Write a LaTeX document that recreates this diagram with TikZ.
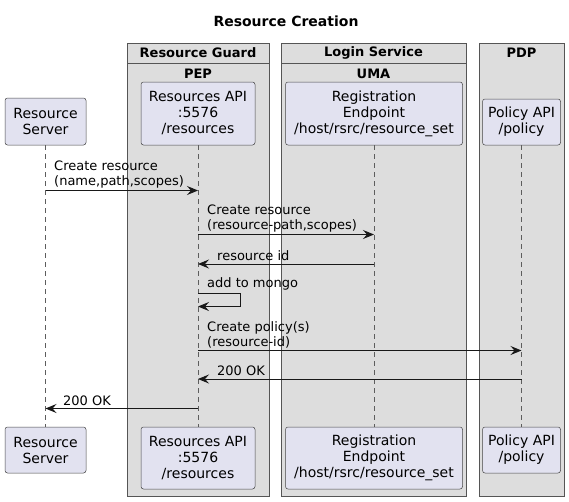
\documentclass[tikz,border=0pt]{standalone}
\usepackage{fontspec}
\setmainfont{DejaVu Sans}
\usetikzlibrary{arrows.meta}
\definecolor{partfill}{HTML}{E2E2F0}
\definecolor{partline}{HTML}{181818}
\definecolor{boxfill}{HTML}{DDDDDD}
\definecolor{boxline}{HTML}{555555}
\tikzset{
  x=1pt, y=-1pt,
  part/.style={draw=partline!80, fill=partfill, rounded corners=2.5pt, line width=0.5pt},
  ptext/.style={font=\fontsize{14}{16}\selectfont, align=center, inner sep=0pt},
  grp/.style={draw=boxline, fill=boxfill, line width=0.8pt},
  gtitle/.style={font=\fontsize{13}{15}\selectfont\bfseries, inner sep=0pt},
  life/.style={draw=partline!70, line width=0.6pt, dash pattern=on 5pt off 4pt},
  msg/.style={draw=partline, line width=0.9pt, -{Stealth[length=11pt,width=9pt,inset=4pt]}},
  mtext/.style={font=\fontsize{13}{14.5}\selectfont, align=left, inner sep=0pt, anchor=south west},
}
\begin{document}
\begin{tikzpicture}
\useasboundingbox (0,0) rectangle (569,501);
\fill[white] (0,0) rectangle (569,501);
% title
\node[font=\fontsize{14}{16}\selectfont\bfseries, inner sep=0pt] (title) at (286,21) {Resource Creation};
% groups
\draw[grp] (127,43) rectangle (269,496);
\draw[boxline, line width=0.8pt] (127,63) -- (269,63);
\node[gtitle] (g1) at (198,52.5) {Resource Guard};
\node[gtitle] (g1b) at (198,73.5) {PEP};
\draw[grp] (281,43) rectangle (466,496);
\draw[boxline, line width=0.8pt] (281,63) -- (466,63);
\node[gtitle] (g2) at (373.5,52.5) {Login Service};
\node[gtitle] (g2b) at (373.5,73.5) {UMA};
\draw[grp] (479,43) rectangle (564,496);
\node[gtitle] (g3) at (521.5,52.5) {PDP};
% lifelines
\coordinate (rsT) at (45.5,145); \coordinate (rsB) at (45.5,427);
\coordinate (raT) at (198,145); \coordinate (raB) at (198,427);
\coordinate (reT) at (374,145); \coordinate (reB) at (374,427);
\coordinate (paT) at (521.5,145); \coordinate (paB) at (521.5,427);
\draw[life] (rsT) -- (rsB);
\draw[life] (raT) -- (raB);
\draw[life] (reT) -- (reB);
\draw[life] (paT) -- (paB);
% participants top
\draw[part] (5,98) rectangle (86,145);
\node[ptext] (rs) at (45.5,121.5) {Resource\\Server};
\draw[part] (141,82) rectangle (255,145);
\node[ptext] (ra) at (198,113.5) {Resources API\\:5576\\/resources};
\draw[part] (285.5,82) rectangle (462.5,145);
\node[ptext] (re) at (374,113.5) {Registration\\Endpoint\\/host/rsrc/resource\_set};
\draw[part] (482.5,99) rectangle (560.5,145);
\node[ptext] (pa) at (521.5,122) {Policy API\\/policy};
% participants bottom
\draw[part] (5,427) rectangle (86,473);
\node[ptext] (rs2) at (45.5,450) {Resource\\Server};
\draw[part] (141,427) rectangle (255,489);
\node[ptext] (ra2) at (198,458) {Resources API\\:5576\\/resources};
\draw[part] (285.5,427) rectangle (462.5,489);
\node[ptext] (re2) at (374,458) {Registration\\Endpoint\\/host/rsrc/resource\_set};
\draw[part] (482.5,427) rectangle (560.5,473);
\node[ptext] (pa2) at (521.5,450) {Policy API\\/policy};
% messages
\coordinate (m1a) at (45.5,190.5); \coordinate (m1b) at (198,190.5);
\draw[msg] (m1a) -- (m1b);
\node[mtext] (t1) at (54,188) {Create resource\\(name,path,scopes)};
\coordinate (m2a) at (198,234.5); \coordinate (m2b) at (374,234.5);
\draw[msg] (m2a) -- (m2b);
\node[mtext] (t2) at (207,232) {Create resource\\(resource-path,scopes)};
\coordinate (m3a) at (374,264); \coordinate (m3b) at (198,264);
\draw[msg] (m3a) -- (m3b);
\node[mtext] (t3) at (217,261) {resource id};
\coordinate (m4a) at (198,293.5); \coordinate (m4b) at (198,306.5);
\draw[msg] (m4a) -- (240.5,293.5) -- (240.5,306.5) -- (m4b);
\node[mtext] (t4) at (207,290.5) {add to mongo};
\coordinate (m5a) at (198,350.5); \coordinate (m5b) at (521.5,350.5);
\draw[msg] (m5a) -- (m5b);
\node[mtext] (t5) at (207,348) {Create policy(s)\\(resource-id)};
\coordinate (m6a) at (521.5,379); \coordinate (m6b) at (198,379);
\draw[msg] (m6a) -- (m6b);
\node[mtext] (t6) at (217,376) {200 OK};
\coordinate (m7a) at (198,408.5); \coordinate (m7b) at (45.5,408.5);
\draw[msg] (m7a) -- (m7b);
\node[mtext] (t7) at (63,405.5) {200 OK};
\end{tikzpicture}
\end{document}
